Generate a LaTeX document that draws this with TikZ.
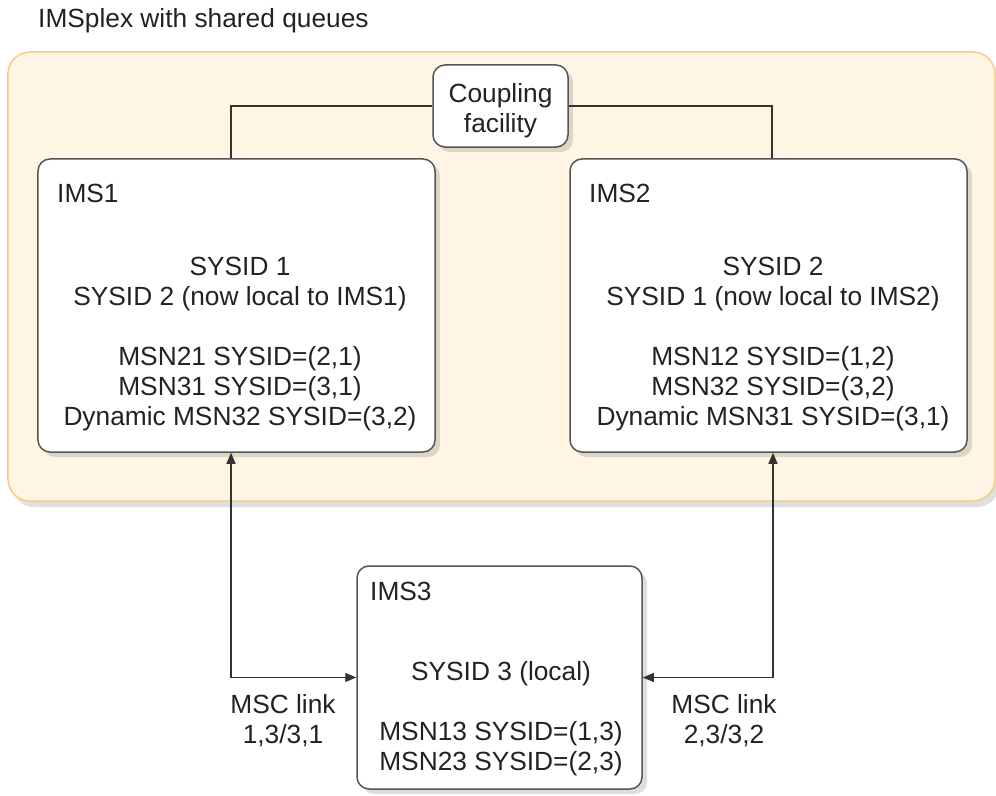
\documentclass[tikz,border=0pt]{standalone}
\usepackage{fontspec}
\setmainfont{Liberation Sans}
\usetikzlibrary{arrows.meta,shadows}
\definecolor{plexfill}{RGB}{254,245,228}
\definecolor{plexdraw}{RGB}{250,204,128}
\definecolor{boxdraw}{RGB}{85,85,85}
\definecolor{txt}{RGB}{34,34,34}
\begin{document}
\begin{tikzpicture}[x=1bp,y=-1bp,
  txtfont/.style={font=\fontsize{26.4}{30}\selectfont, text=txt, align=center, inner sep=0pt},
  lbl/.style={font=\fontsize{26.4}{30}\selectfont, text=txt, inner sep=0pt, anchor=base west},
  shbox/.style={draw=boxdraw, line width=1.5bp, fill=white, rounded corners=12bp, inner sep=0pt,
    drop shadow={shadow xshift=5bp, shadow yshift=-5bp, fill=black, opacity=0.13}},
  plexbox/.style={draw=plexdraw, fill=plexfill, line width=1.5bp, rounded corners=22bp, inner sep=0pt,
    drop shadow={shadow xshift=4bp, shadow yshift=-6bp, fill=black, opacity=0.12}},
  link/.style={draw=black!80, line width=1.4bp},
  biarrow/.style={link, {Triangle[length=11bp,width=9bp]}-{Triangle[length=11bp,width=9bp]}}]
\useasboundingbox (0,0) rectangle (996,796);

\node[lbl] (title) at (38,28) {IMSplex with shared queues};

\node[plexbox, minimum width=987bp, minimum height=449bp] (plex) at (501.5,276.5) {};

\node[shbox, minimum width=135bp, minimum height=82bp] (cf) at (500.5,106) {};
\node[txtfont] (cftext) at (500.5,110.8) {Coupling\\facility};

\node[shbox, minimum width=397bp, minimum height=293bp] (ims1) at (236.5,305.5) {};
\node[shbox, minimum width=397bp, minimum height=293bp] (ims2) at (768.5,305.5) {};
\node[shbox, minimum width=285bp, minimum height=223bp] (ims3) at (499.5,677.5) {};

\node[lbl] (ims1lbl) at (57,202) {IMS1};
\node[lbl] (ims2lbl) at (589,202) {IMS2};
\node[lbl] (ims3lbl) at (370,600) {IMS3};

\node[txtfont] (ims1text) at (240,344.3) {SYSID 1\\SYSID 2 (now local to IMS1)\\[30bp]MSN21 SYSID=(2,1)\\MSN31 SYSID=(3,1)\\Dynamic MSN32 SYSID=(3,2)};
\node[txtfont] (ims2text) at (773,344.3) {SYSID 2\\SYSID 1 (now local to IMS2)\\[30bp]MSN12 SYSID=(1,2)\\MSN32 SYSID=(3,2)\\Dynamic MSN31 SYSID=(3,1)};
\node[txtfont] (ims3text) at (501,719) {SYSID 3 (local)\\[30bp]MSN13 SYSID=(1,3)\\MSN23 SYSID=(2,3)};

\node[txtfont] (msc1) at (283,720.5) {MSC link\\1,3/3,1};
\node[txtfont] (msc2) at (724,720.5) {MSC link\\2,3/3,2};

\draw[link] (cf.west) -| ([xshift=-5.5bp]ims1.north);
\draw[link] (cf.east) -| ([xshift=3.5bp]ims2.north);
\draw[biarrow] ([xshift=-5.5bp]ims1.south) |- (ims3.west);
\draw[biarrow] ([xshift=4.5bp]ims2.south) |- (ims3.east);
\end{tikzpicture}
\end{document}
